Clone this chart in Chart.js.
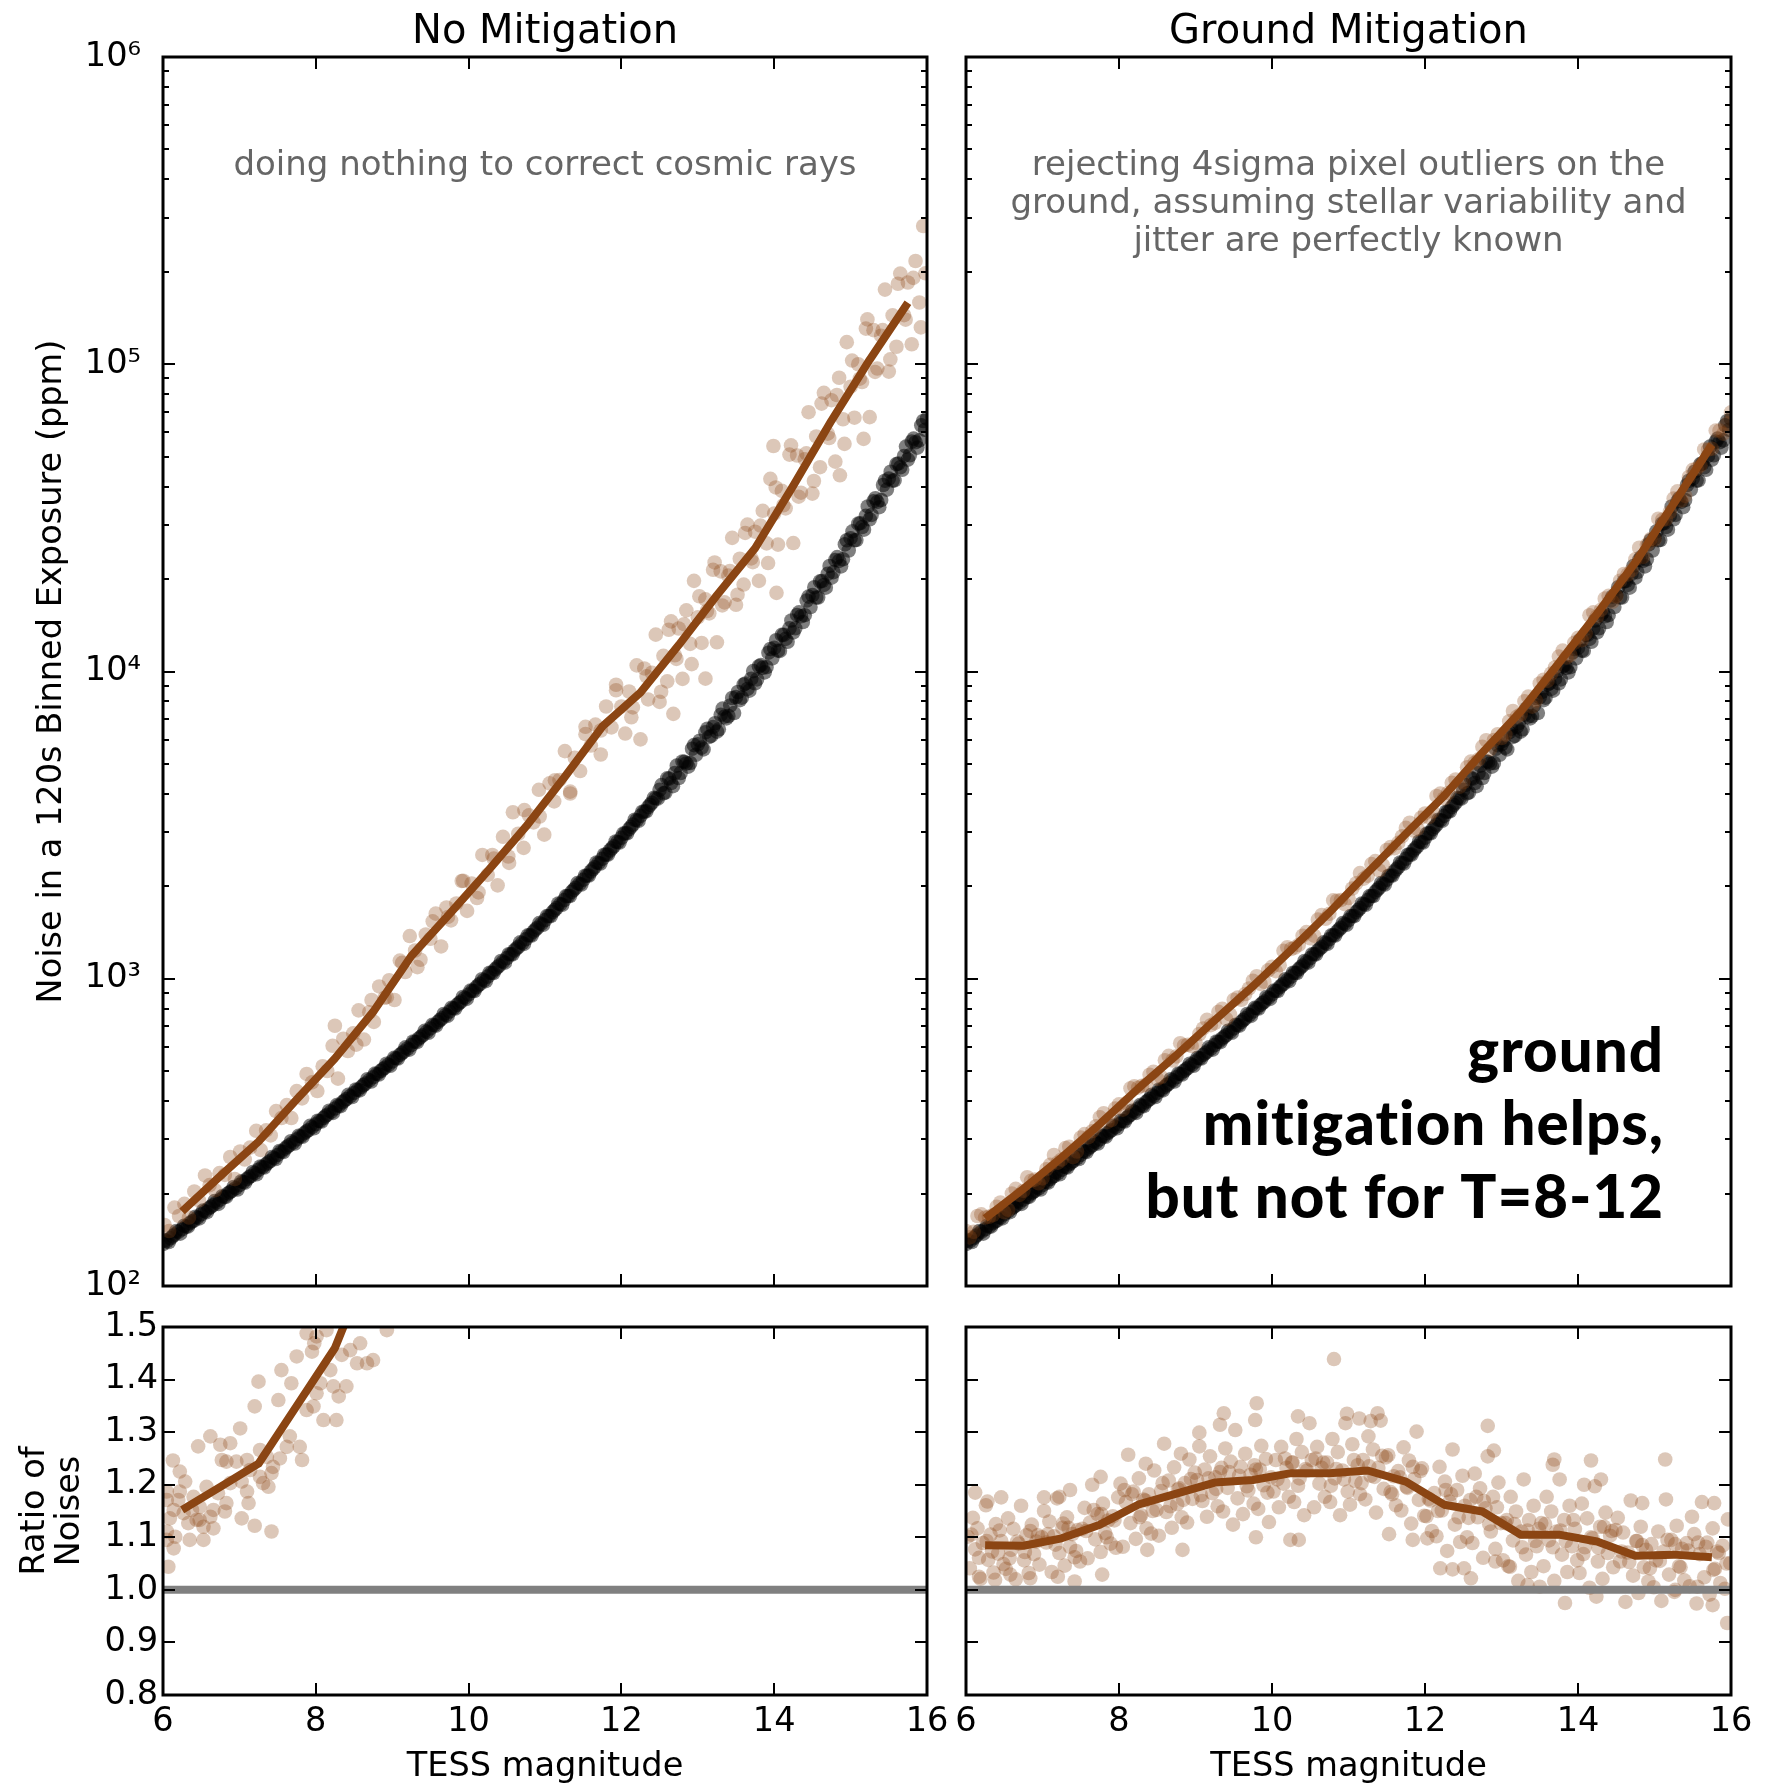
<!DOCTYPE html>
<html>
<head>
<meta charset="utf-8">
<title>Cosmic ray mitigation: noise vs TESS magnitude</title>
<script src="https://cdn.jsdelivr.net/npm/chart.js@4.4.1/dist/chart.umd.min.js"></script>
<style>
  html, body { margin: 0; padding: 0; background: #fff; }
  #figure { position: relative; width: 1766px; height: 1788px; }
  #figure canvas { position: absolute; left: 0; top: 0; }
</style>
</head>
<body>
<div id="figure">
  <canvas id="noMitigationNoise" width="1766" height="1788"></canvas>
  <canvas id="groundNoise" width="1766" height="1788"></canvas>
  <canvas id="noMitigationRatio" width="1766" height="1788"></canvas>
  <canvas id="groundRatio" width="1766" height="1788"></canvas>
</div>
<script>
// ---------- axis ticks ----------
const magTicks = [6, 8, 10, 12, 14, 16];
const noiseDecades = [100, 1000, 10000, 100000, 1000000];
const ratioTicks = [0.8, 0.9, 1.0, 1.1, 1.2, 1.3, 1.4, 1.5];
const unityRatio = 1.0;

// ---------- binned medians (0.5 mag bins) ----------
const binMag = [6.25, 6.75, 7.25, 7.75, 8.25, 8.75, 9.25, 9.75, 10.25, 10.75,
                11.25, 11.75, 12.25, 12.75, 13.25, 13.75, 14.25, 14.75, 15.25, 15.75];
const noMitigationMedian = [175, 228, 295, 405, 550, 780, 1186, 1625, 2240, 3126,
                            4510, 6620, 8550, 12190, 17700, 25180, 40270, 65600, 103500, 158500];
const groundMedian = [166, 207, 262, 337, 439, 564, 732, 945, 1242, 1644,
                      2212, 2964, 3937, 5444, 7411, 10650, 15410, 22640, 35140, 54710];
const noMitigationRatioMedian = [1.152, 1.196, 1.24, 1.35, 1.46, 1.64, 1.95, 2.08, 2.2, 2.32,
                                 2.5, 2.69, 2.52, 2.57, 2.64, 2.61, 2.85, 3.09, 3.14, 3.08];
const groundRatioMedian = [1.085, 1.084, 1.098, 1.124, 1.162, 1.183, 1.204, 1.209, 1.222, 1.222,
                           1.227, 1.206, 1.162, 1.149, 1.105, 1.105, 1.092, 1.065, 1.067, 1.062];

// ---------- per-star noise without cosmic rays [mag, ppm] ----------
const cleanStars = [
[6.00,137],[6.05,140],[6.10,143],[6.15,147],[6.20,150],[6.25,153],[6.30,156],[6.35,160],[6.40,163],[6.45,167],
[6.50,171],[6.55,175],[6.60,179],[6.65,183],[6.70,187],[6.75,191],[6.80,195],[6.85,200],[6.90,204],[6.95,208],
[7.00,213],[7.05,218],[7.10,223],[7.15,228],[7.20,233],[7.25,239],[7.30,244],[7.35,249],[7.40,255],[7.45,261],
[7.50,267],[7.55,274],[7.60,280],[7.65,287],[7.70,293],[7.75,300],[7.80,307],[7.85,314],[7.90,321],[7.95,329],
[8.00,336],[8.05,344],[8.10,352],[8.15,361],[8.20,369],[8.25,378],[8.30,386],[8.35,396],[8.40,406],[8.45,415],
[8.50,425],[8.55,435],[8.60,445],[8.65,456],[8.70,467],[8.75,478],[8.80,490],[8.85,501],[8.90,513],[8.95,525],
[9.00,538],[9.05,551],[9.10,565],[9.15,579],[9.20,593],[9.25,608],[9.30,624],[9.35,639],[9.40,655],[9.45,672],
[9.50,689],[9.55,706],[9.60,724],[9.65,743],[9.70,762],[9.75,782],[9.80,802],[9.85,822],[9.90,843],[9.95,866],
[10.00,889],[10.05,913],[10.10,938],[10.15,963],[10.20,989],[10.25,1016],[10.30,1045],[10.35,1074],[10.40,1104],[10.45,1135],
[10.50,1167],[10.55,1201],[10.60,1236],[10.65,1270],[10.70,1306],[10.75,1345],[10.80,1384],[10.85,1424],[10.90,1466],[10.95,1508],
[11.00,1552],[11.05,1599],[11.10,1648],[11.15,1698],[11.20,1750],[11.25,1803],[11.30,1858],[11.35,1917],[11.40,1977],[11.45,2037],
[11.50,2099],[11.55,2165],[11.60,2234],[11.65,2307],[11.70,2382],[11.75,2458],[11.80,2535],[11.85,2615],[11.90,2698],[11.95,2786],
[12.00,2877],[12.05,2972],[12.10,3069],[12.15,3173],[12.20,3281],[12.25,3388],[12.30,3499],[12.35,3618],[12.40,3741],[12.45,3868],
[12.50,4119],[12.55,4011],[12.60,4490],[12.65,4337],[12.70,4673],[12.75,4501],[12.80,5094],[12.85,5019],[12.90,5038],[12.95,5758],
[13.00,5792],[13.05,5653],[13.10,6341],[13.15,6126],[13.20,6600],[13.25,6372],[13.30,7228],[13.35,7130],[13.40,7165],[13.45,8199],
[13.50,8258],[13.55,8068],[13.60,9062],[13.65,8775],[13.70,9476],[13.75,9156],[13.80,10400],[13.85,10272],[13.90,10334],[13.95,11839],
[14.00,11936],[14.05,11689],[14.10,13158],[14.15,12771],[14.20,13823],[14.25,13405],[14.30,15277],[14.35,15122],[14.40,15250],[14.45,17530],
[14.50,17736],[14.55,17409],[14.60,19642],[14.65,19130],[14.70,20777],[14.75,20197],[14.80,23069],[14.85,22917],[14.90,23189],[14.95,26748],
[15.00,27154],[15.05,26743],[15.10,30282],[15.15,29527],[15.20,32107],[15.25,31284],[15.30,35812],[15.35,35656],[15.40,36163],[15.45,41764],
[15.50,42446],[15.55,41807],[15.60,47334],[15.65,46207],[15.70,50306],[15.75,48944],[15.80,55983],[15.85,55737],[15.90,56525],[15.95,65360],
[16.00,66507],
[6.025,141],[6.075,139],[6.125,145],[6.175,151],[6.225,148],[6.275,157],[6.325,156],[6.375,162],[6.425,168],[6.475,166],
[6.525,176],[6.575,174],[6.625,181],[6.675,189],[6.725,185],[6.775,196],[6.825,195],[6.875,202],[6.925,210],[6.975,206],
[7.025,219],[7.075,217],[7.125,226],[7.175,235],[7.225,231],[7.275,245],[7.325,243],[7.375,252],[7.425,263],[7.475,259],
[7.525,275],[7.575,273],[7.625,284],[7.675,296],[7.725,291],[7.775,308],[7.825,306],[7.875,318],[7.925,332],[7.975,326],
[8.025,345],[8.075,343],[8.125,357],[8.175,372],[8.225,366],[8.275,388],[8.325,385],[8.375,401],[8.425,419],[8.475,412],
[8.525,436],[8.575,433],[8.625,451],[8.675,471],[8.725,463],[8.775,491],[8.825,488],[8.875,507],[8.925,529],[8.975,521],
[9.025,553],[9.075,550],[9.125,572],[9.175,598],[9.225,588],[9.275,625],[9.325,622],[9.375,647],[9.425,677],[9.475,667],
[9.525,708],[9.575,704],[9.625,734],[9.675,768],[9.725,757],[9.775,804],[9.825,800],[9.875,833],[9.925,872],[9.975,860],
[10.025,915],[10.075,912],[10.125,951],[10.175,996],[10.225,982],[10.275,1046],[10.325,1044],[10.375,1089],[10.425,1142],[10.475,1128],
[10.525,1202],[10.575,1200],[10.625,1253],[10.675,1314],[10.725,1299],[10.775,1385],[10.825,1383],[10.875,1445],[10.925,1517],[10.975,1499],
[11.025,1599],[11.075,1599],[11.125,1673],[11.175,1758],[11.225,1741],[11.275,1858],[11.325,1859],[11.375,1947],[11.425,2047],[11.475,2027],
[11.525,2164],[11.575,2167],[11.625,2271],[11.675,2391],[11.725,2372],[11.775,2534],[11.825,2536],[11.875,2657],[11.925,2797],[11.975,2775],
[12.025,2968],[12.075,2975],[12.125,3121],[12.175,3292],[12.225,3268],[12.275,3495],[12.325,3505],[12.375,3680],[12.425,3881],[12.475,3855],
[12.525,4270],[12.575,4037],[12.625,4481],[12.675,4233],[12.725,4938],[12.775,4673],[12.825,5083],[12.875,4900],[12.925,5606],[12.975,5360],
[13.025,5953],[13.075,5577],[13.125,6513],[13.175,6169],[13.225,6786],[13.275,6486],[13.325,7570],[13.375,7039],[13.425,7750],[13.475,7324],
[13.525,8574],[13.575,8219],[13.625,9143],[13.675,8664],[13.725,10030],[13.775,9424],[13.825,10493],[13.875,9935],[13.925,11514],[13.975,11036],
[14.025,12644],[14.075,11675],[14.125,13162],[14.175,12494],[14.225,14659],[14.275,13821],[14.325,15578],[14.375,14487],[14.425,17019],[14.475,16201],
[14.525,18811],[14.575,17408],[14.625,19683],[14.675,18744],[14.725,22059],[14.775,21065],[14.825,23566],[14.875,21991],[14.925,25925],[14.975,24760],
[15.025,28578],[15.075,26788],[15.125,30362],[15.175,28948],[15.225,34449],[15.275,32328],[15.325,36626],[15.375,34257],[15.425,40451],[15.475,39088],
[15.525,44675],[15.575,41876],[15.625,47488],[15.675,45332],[15.725,53939],[15.775,50554],[15.825,57252],[15.875,53549],[15.925,63263],[15.975,61207]
];

// ---------- per-star noise, cosmic rays left in [mag, ppm] ----------
const noMitigationStars = [
[6.02,158],[6.08,151],[6.15,180],[6.21,169],[6.28,185],[6.34,167],[6.41,203],[6.47,190],[6.55,229],[6.61,213],
[6.68,205],[6.74,233],[6.81,230],[6.88,263],[6.94,223],[7.01,274],[7.07,258],[7.14,282],[7.22,320],[7.28,277],
[7.35,321],[7.41,309],[7.48,371],[7.55,352],[7.62,388],[7.68,352],[7.75,431],[7.82,408],[7.88,490],[7.95,460],
[8.02,431],[8.09,519],[8.15,501],[8.22,605],[8.29,473],[8.36,638],[8.42,582],[8.49,664],[8.56,789],[8.63,634],
[8.70,778],[8.76,724],[8.83,944],[8.90,867],[8.96,989],[9.03,853],[9.10,1146],[9.17,1052],[9.23,1377],[9.30,1236],
[9.37,1153],[9.44,1393],[9.50,1349],[9.57,1629],[9.64,1274],[9.71,1706],[9.77,1549],[9.84,1758],[9.91,2080],[9.98,1663],
[10.04,2042],[10.11,1832],[10.18,2529],[10.25,2178],[10.31,2529],[10.38,2014],[10.45,2897],[10.52,2500],[10.58,3483],[10.65,2965],
[10.72,2667],[10.79,3404],[10.85,3228],[10.92,4121],[10.99,2944],[11.06,4325],[11.12,3776],[11.19,4436],[11.26,5508],[11.33,4064],
[11.39,5236],[11.46,4742],[11.53,6607],[11.60,5741],[11.66,6714],[11.73,5370],[11.80,7691],[11.87,6577],[11.93,9057],[12.00,7691],
[12.05,6281],[12.10,8610],[12.15,7638],[12.20,10471],[12.25,6012],[12.30,10233],[12.35,8110],[12.40,9908],[12.45,13183],[12.50,7962],
[12.55,11246],[12.60,9290],[12.65,14555],[12.70,11298],[12.75,13804],[12.80,9462],[12.85,15812],[12.90,12303],[12.95,19724],[13.00,14997],
[13.05,12388],[13.10,17179],[13.15,15453],[13.20,21429],[13.25,12445],[13.30,21184],[13.35,16788],[13.40,20512],[13.45,27227],[13.50,16482],
[13.55,23281],[13.60,19187],[13.65,30061],[13.70,23335],[13.75,28510],[13.80,19724],[13.85,33343],[13.90,26122],[13.95,42364],[14.00,32659],
[14.05,25882],[14.10,38726],[14.15,33963],[14.20,50816],[14.25,26182],[14.30,50466],[14.35,38194],[14.40,49091],[14.45,69823],[14.50,37931],
[14.55,58210],[14.60,46238],[14.65,80724],[14.70,59429],[14.75,76384],[14.80,48195],[14.85,90365],[14.90,66222],[14.95,118032],[15.00,84528],
[15.05,66988],[15.10,100000],[15.15,87498],[15.20,130617],[15.25,67298],[15.30,129122],[15.35,96828],[15.40,123880],[15.45,174985],[15.50,94624],
[15.55,144212],[15.60,114025],[15.65,197242],[15.70,144544],[15.75,184502],[15.80,116145],[15.85,216770],[15.90,158855],[15.95,281838],[15.98,197697],
[8.25,703],[13.10,9480],[12.68,7280],[13.99,54200],[14.03,18030],[14.86,43500],[15.17,57150],
[8.53,610],[8.73,853],[8.93,871],[9.13,1127],[9.33,1091],[9.53,1538],[9.73,1589],[9.93,2084],[10.13,1910],[10.33,2460],
[10.53,2382],[10.73,3540],[10.93,3373],[11.13,4426],[11.33,4009],[11.53,6252],[11.73,6427],[11.93,8690],[12.13,7096],[12.33,9638],
[12.52,8590],[12.62,13677],[12.72,10990],[12.82,14256],[12.92,10568],[13.02,17579],[13.12,15740],[13.22,22646],[13.32,16406],[13.42,21232],
[13.52,17783],[13.62,28249],[13.72,22699],[13.82,29854],[13.92,22542],[14.02,39719],[14.12,34754],[14.22,54450],[14.32,37068],[14.42,51286],
[14.52,41687],[14.62,74473],[14.72,57544],[14.82,79433],[14.92,55081],[15.02,102802],[15.12,89743],[15.22,139959],[15.32,94406],[15.42,129122],
[15.52,103753],[15.62,182810],[15.72,139637],[15.82,190985],[15.92,131826]
];

// ---------- per-star noise after ground rejection [mag, ppm] ----------
const groundStars = [
[6.0,151],[6.1,150],[6.2,171],[6.3,168],[6.4,181],[6.5,174],[6.6,200],[6.7,198],[6.8,226],[6.9,222],
[7.0,224],[7.1,248],[7.2,252],[7.3,281],[7.4,263],[7.5,304],[7.6,305],[7.7,331],[7.8,365],[7.9,347],
[8.0,390],[8.1,394],[8.2,447],[8.3,448],[8.4,487],[8.5,472],[8.6,543],[8.7,542],[8.8,617],[8.9,610],
[9.0,619],[9.1,689],[9.2,706],[9.3,780],[9.4,740],[9.5,854],[9.6,854],[9.7,930],[9.8,1019],[9.9,978],
[10.0,1093],[10.1,1107],[10.2,1266],[10.3,1264],[10.4,1380],[10.5,1354],[10.6,1557],[10.7,1567],[10.8,1799],[10.9,1803],
[11.0,1831],[11.1,2044],[11.2,2118],[11.3,2360],[11.4,2254],[11.5,2624],[11.6,2658],[11.7,2906],[11.8,3219],[11.9,3076],
[12.0,3452],[12.1,3499],[12.2,4003],[12.3,4024],[12.4,4452],[12.5,4359],[12.6,5088],[12.7,5177],[12.8,5976],[12.9,5983],
[13.0,6073],[13.1,6884],[13.2,7118],[13.3,7993],[13.4,7688],[13.5,9139],[13.6,9320],[13.7,10312],[13.8,11700],[13.9,11303],
[14.0,12863],[14.1,13283],[14.2,15585],[14.3,15864],[14.4,17632],[14.5,17563],[14.6,20765],[14.7,21389],[14.8,25287],[14.9,25846],
[15.0,26890],[15.1,31147],[15.2,33051],[15.3,38567],[15.4,37293],[15.5,45331],[15.6,46883],[15.7,52772],[15.8,60828],[15.9,59469],
[16.0,69736],
[6.05,144],[6.15,169],[6.25,167],[6.35,170],[6.45,187],[6.55,177],[6.65,207],[6.75,204],[6.85,220],[6.95,216],
[7.05,240],[7.15,267],[7.25,258],[7.35,284],[7.45,274],[7.55,312],[7.65,319],[7.75,354],[7.85,342],[7.95,378],
[8.05,375],[8.15,440],[8.25,442],[8.35,451],[8.45,498],[8.55,479],[8.65,561],[8.75,559],[8.85,606],[8.95,604],
[9.05,661],[9.15,735],[9.25,717],[9.35,799],[9.45,766],[9.55,868],[9.65,892],[9.75,985],[9.85,962],[9.95,1065],
[10.05,1059],[10.15,1233],[10.25,1250],[10.35,1289],[10.45,1419],[10.55,1381],[10.65,1613],[10.75,1627],[10.85,1794],[10.95,1749],
[11.05,1967],[11.15,2207],[11.25,2164],[11.35,2415],[11.45,2343],[11.55,2685],[11.65,2768],[11.75,3097],[11.85,3033],[11.95,3343],
[12.05,3358],[12.15,3935],[12.25,3862],[12.35,4342],[12.45,4216],[12.55,4879],[12.65,5046],[12.75,5686],[12.85,5577],[12.95,6247],
[13.05,6236],[13.15,7439],[13.25,7244],[13.35,8282],[13.45,8044],[13.55,9399],[13.65,9849],[13.75,11180],[13.85,11102],[13.95,12398],
[14.05,12653],[14.15,15247],[14.25,15098],[14.35,17261],[14.45,16869],[14.55,19742],[14.65,20691],[14.75,23173],[14.85,23611],[14.95,27000],
[15.05,31430],[15.15,31335],[15.25,36552],[15.35,36016],[15.45,42946],[15.55,45686],[15.65,52808],[15.75,53066],[15.85,60804],[15.95,64126]
];

// ---------- per-star ratio to the clean noise [mag, ratio] ----------
const noMitigationRatioStars = [
[6.05,1.187],[6.13,1.246],[6.22,1.225],[6.29,1.206],[6.05,1.171],[6.20,1.171],[6.09,1.136],[6.27,1.146],[6.38,1.152],[6.44,1.133],
[6.33,1.127],[6.53,1.120],[6.66,1.117],[6.62,1.139],[6.48,1.158],[6.05,1.111],[6.16,1.101],[6.05,1.095],[6.14,1.079],[6.07,1.044],
[6.35,1.095],[6.53,1.095],[6.46,1.273],[6.62,1.292],[6.75,1.276],[6.88,1.279],[7.01,1.307],[7.25,1.396],[7.20,1.349],[7.42,1.111],
[7.20,1.122],[7.03,1.136],[6.81,1.149],[6.83,1.165],[6.66,1.152],[6.72,1.184],[6.77,1.247],[6.83,1.244],[6.96,1.244],[7.10,1.247],
[7.12,1.165],[7.10,1.187],[7.03,1.206],[7.27,1.215],[7.31,1.203],[7.38,1.196],[7.42,1.222],[7.44,1.234],[7.53,1.250],[7.62,1.272],
[7.66,1.292],[7.79,1.272],[7.82,1.247],[7.51,1.361],[7.55,1.418],[7.68,1.393],[7.75,1.444],[7.88,1.342],[7.97,1.349],[8.01,1.374],
[8.06,1.393],[8.10,1.323],[7.95,1.453],[7.98,1.469],[8.01,1.482],[7.88,1.488],[8.19,1.418],[8.23,1.387],[8.27,1.323],[8.30,1.368],
[8.40,1.387],[8.34,1.447],[8.45,1.456],[8.58,1.469],[8.54,1.431],[8.67,1.431],[8.75,1.437],[8.93,1.494],[8.14,1.494],[7.27,1.266],
[7.36,1.253],[7.14,1.228],[6.88,1.203],[6.40,1.177],[6.57,1.196],[6.48,1.133],[6.22,1.187],[6.14,1.152]
];

const groundRatioStars = [
[6.02,1.101],[6.05,1.041],[6.09,1.137],[6.12,1.077],[6.15,1.117],[6.19,1.021],[6.22,1.089],[6.26,1.161],[6.29,1.057],[6.32,1.105],[6.36,1.033],[6.39,1.125],[6.42,1.069],[6.46,1.093],[6.49,1.049],
[6.52,1.040],[6.55,1.136],[6.59,1.076],[6.62,1.116],[6.65,1.020],[6.69,1.088],[6.72,1.160],[6.76,1.056],[6.79,1.104],[6.82,1.032],[6.86,1.124],[6.89,1.068],[6.92,1.092],[6.96,1.048],[6.99,1.100],
[7.02,1.150],[7.05,1.090],[7.09,1.130],[7.12,1.034],[7.15,1.102],[7.19,1.174],[7.22,1.070],[7.26,1.118],[7.29,1.046],[7.32,1.138],[7.36,1.082],[7.39,1.106],[7.42,1.062],[7.46,1.114],[7.49,1.054],
[7.52,1.116],[7.55,1.156],[7.59,1.060],[7.62,1.128],[7.65,1.200],[7.69,1.096],[7.72,1.144],[7.76,1.072],[7.79,1.164],[7.82,1.108],[7.86,1.132],[7.89,1.088],[7.92,1.140],[7.96,1.080],[7.99,1.176],
[8.02,1.202],[8.05,1.082],[8.09,1.167],[8.12,1.257],[8.15,1.127],[8.19,1.187],[8.22,1.097],[8.26,1.212],[8.29,1.142],[8.32,1.172],[8.36,1.117],[8.39,1.182],[8.42,1.107],[8.46,1.227],[8.49,1.152],
[8.52,1.103],[8.55,1.188],[8.59,1.278],[8.62,1.148],[8.65,1.208],[8.69,1.118],[8.72,1.233],[8.76,1.163],[8.79,1.193],[8.82,1.138],[8.86,1.203],[8.89,1.128],[8.92,1.248],[8.96,1.173],[8.99,1.223],
[9.02,1.209],[9.05,1.299],[9.09,1.169],[9.12,1.229],[9.15,1.139],[9.19,1.254],[9.22,1.184],[9.26,1.214],[9.29,1.159],[9.32,1.224],[9.36,1.149],[9.39,1.269],[9.42,1.194],[9.46,1.244],[9.49,1.124],
[9.52,1.304],[9.55,1.174],[9.59,1.234],[9.62,1.144],[9.65,1.259],[9.69,1.189],[9.72,1.219],[9.76,1.164],[9.79,1.229],[9.82,1.154],[9.86,1.274],[9.89,1.199],[9.92,1.249],[9.96,1.129],[9.99,1.214],
[10.02,1.187],[10.05,1.247],[10.09,1.157],[10.12,1.272],[10.15,1.202],[10.19,1.232],[10.22,1.177],[10.26,1.242],[10.29,1.167],[10.32,1.287],[10.36,1.212],[10.39,1.262],[10.42,1.142],[10.46,1.227],[10.49,1.317],
[10.52,1.247],[10.55,1.157],[10.59,1.272],[10.62,1.202],[10.65,1.232],[10.69,1.177],[10.72,1.242],[10.76,1.167],[10.79,1.287],[10.82,1.212],[10.86,1.262],[10.89,1.142],[10.92,1.227],[10.96,1.317],[10.99,1.187],
[11.02,1.162],[11.05,1.277],[11.09,1.207],[11.12,1.237],[11.15,1.182],[11.19,1.247],[11.22,1.172],[11.26,1.292],[11.29,1.217],[11.32,1.267],[11.36,1.147],[11.39,1.232],[11.42,1.322],[11.46,1.192],[11.49,1.252],
[11.52,1.256],[11.55,1.186],[11.59,1.216],[11.62,1.161],[11.65,1.226],[11.69,1.151],[11.72,1.271],[11.76,1.196],[11.79,1.246],[11.82,1.126],[11.86,1.211],[11.89,1.301],[11.92,1.171],[11.96,1.231],[11.99,1.141],
[12.02,1.140],[12.05,1.173],[12.09,1.112],[12.12,1.184],[12.15,1.102],[12.19,1.234],[12.22,1.151],[12.26,1.206],[12.29,1.074],[12.32,1.168],[12.36,1.267],[12.39,1.124],[12.42,1.190],[12.46,1.091],[12.49,1.217],
[12.52,1.160],[12.55,1.100],[12.59,1.171],[12.62,1.089],[12.65,1.221],[12.69,1.138],[12.72,1.193],[12.76,1.061],[12.79,1.155],[12.82,1.254],[12.86,1.111],[12.89,1.177],[12.92,1.078],[12.96,1.204],[12.99,1.127],
[13.02,1.056],[13.05,1.127],[13.09,1.045],[13.12,1.177],[13.15,1.094],[13.19,1.149],[13.22,1.017],[13.26,1.111],[13.29,1.210],[13.32,1.067],[13.36,1.133],[13.39,1.034],[13.42,1.160],[13.46,1.083],[13.49,1.116],
[13.52,1.127],[13.55,1.045],[13.59,1.177],[13.62,1.094],[13.65,1.149],[13.69,1.017],[13.72,1.111],[13.76,1.210],[13.79,1.067],[13.82,1.133],[13.86,1.034],[13.89,1.160],[13.92,1.083],[13.96,1.116],[13.99,1.056],
[14.02,1.032],[14.05,1.164],[14.09,1.081],[14.12,1.136],[14.15,1.004],[14.19,1.098],[14.22,1.197],[14.26,1.054],[14.29,1.120],[14.32,1.021],[14.36,1.147],[14.39,1.070],[14.42,1.103],[14.46,1.043],[14.49,1.114],
[14.52,1.137],[14.55,1.054],[14.59,1.109],[14.62,0.977],[14.65,1.071],[14.69,1.170],[14.72,1.027],[14.76,1.093],[14.79,0.994],[14.82,1.120],[14.86,1.043],[14.89,1.076],[14.92,1.016],[14.96,1.087],[14.99,1.005],
[15.02,1.056],[15.05,1.111],[15.09,0.979],[15.12,1.073],[15.15,1.172],[15.19,1.029],[15.22,1.095],[15.26,0.996],[15.29,1.122],[15.32,1.045],[15.36,1.078],[15.39,1.018],[15.42,1.089],[15.46,1.007],[15.49,1.139],
[15.52,1.106],[15.55,0.974],[15.59,1.068],[15.62,1.167],[15.65,1.024],[15.69,1.090],[15.72,0.991],[15.76,1.117],[15.79,1.040],[15.82,1.073],[15.86,1.013],[15.89,1.084],[15.92,1.002],[15.96,1.134],[15.99,1.051],
[10.81,1.439],[9.80,1.355],[9.37,1.336],[9.32,1.314],[9.78,1.323],[10.34,1.330],[10.98,1.335],[11.14,1.326],[11.29,1.321],[11.38,1.336],
[12.82,1.312],[12.90,1.265],[15.14,1.248],[13.69,1.248],[13.67,1.238],[14.17,1.246],[14.30,1.210],[14.08,1.200],[14.84,1.165],[15.78,1.165],
[6.46,1.176],[6.12,1.185],[6.28,1.168],[7.02,1.176],[7.22,1.177],[7.36,1.190],[7.76,1.215],[8.35,1.240],[8.81,1.259],[9.05,1.273],
[6.17,1.025],[6.38,1.019],[6.84,1.022],[7.42,1.016],[7.78,1.029],[7.20,1.025],[6.58,1.029],[8.37,1.076],[8.83,1.076],[9.79,1.100],
[10.24,1.095],[10.35,1.095],[11.53,1.106],[11.84,1.095],[12.03,1.098],[12.20,1.041],[12.36,1.039],[12.51,1.041],[12.60,1.022],[13.34,1.009],
[13.50,1.006],[13.83,0.975],[14.24,0.987],[15.76,0.971],[15.95,0.937],[15.27,1.000],[15.56,1.006],[13.11,1.044],[12.92,1.054],
[6.07,1.105],[6.17,1.061],[6.27,1.093],[6.34,1.073],[6.44,1.113],[6.57,1.060],[6.67,1.092],[6.77,1.072],[6.84,1.112],[6.94,1.104],
[7.07,1.106],[7.17,1.086],[7.27,1.126],[7.34,1.118],[7.44,1.074],[7.57,1.112],[7.67,1.152],[7.77,1.144],[7.84,1.100],[7.94,1.132],
[8.07,1.190],[8.17,1.182],[8.27,1.138],[8.34,1.170],[8.44,1.150],[8.57,1.203],[8.67,1.159],[8.77,1.191],[8.84,1.171],[8.94,1.211],
[9.07,1.180],[9.17,1.212],[9.27,1.192],[9.34,1.232],[9.44,1.224],[9.57,1.217],[9.67,1.197],[9.77,1.237],[9.84,1.229],[9.94,1.185],
[10.07,1.210],[10.17,1.250],[10.27,1.242],[10.34,1.198],[10.44,1.230],[10.57,1.250],[10.67,1.242],[10.77,1.198],[10.84,1.230],[10.94,1.210],
[11.07,1.247],[11.17,1.203],[11.27,1.235],[11.34,1.215],[11.44,1.255],[11.57,1.182],[11.67,1.214],[11.77,1.194],[11.84,1.234],[11.94,1.226],
[12.07,1.170],[12.17,1.150],[12.27,1.190],[12.34,1.182],[12.44,1.138],[12.57,1.137],[12.67,1.177],[12.77,1.169],[12.84,1.125],[12.94,1.157],
[13.07,1.133],[13.17,1.125],[13.27,1.081],[13.34,1.113],[13.44,1.093],[13.57,1.125],[13.67,1.081],[13.77,1.113],[13.84,1.093],[13.94,1.133],
[14.07,1.068],[14.17,1.100],[14.27,1.080],[14.34,1.120],[14.44,1.112],[14.57,1.073],[14.67,1.053],[14.77,1.093],[14.84,1.085],[14.94,1.041],
[15.07,1.055],[15.17,1.095],[15.27,1.087],[15.34,1.043],[15.44,1.075],[15.57,1.090],[15.67,1.082],[15.77,1.038],[15.84,1.070],[15.94,1.050]
];

// ---------- panel text ----------
const noteNoMitigation = ['doing nothing to correct cosmic rays'];
const noteGround = ['rejecting 4sigma pixel outliers on the',
                    'ground, assuming stellar variability and',
                    'jitter are perfectly known'];
const noteVerdict = ['ground', 'mitigation helps,', 'but not for T=8-12'];

// ---------- styling ----------
const FONT = 'DejaVu Sans';
const LABEL_SIZE = 33.6;
const BROWN = '#8B4513';
const BROWN_DOT = 'rgba(139,69,19,0.3)';
const BLACK_DOT = 'rgba(0,0,0,0.5)';
const DOT_R = 7.3;
const SUP = {2: '\u00B2', 3: '\u00B3', 4: '\u2074', 5: '\u2075', 6: '\u2076'};

Chart.defaults.font.family = FONT;
Chart.defaults.color = '#000';

const toPoints = arr => arr.map(([x, y]) => ({x, y}));
const toLine = (xs, ys) => xs.map((x, i) => ({x, y: ys[i]}));
const minorNoise = [];
noiseDecades.slice(0, -1).forEach(d => { for (let k = 2; k <= 9; k++) minorNoise.push(d * k); });

// Frame with inward ticks on all four sides (major and minor)
function framePlugin(yMajor, yMinor) {
  return {
    id: 'frame',
    afterDraw(chart) {
      const {ctx, chartArea: a} = chart;
      const xs = chart.scales.x, ys = chart.scales.y;
      ctx.save();
      ctx.strokeStyle = '#000';
      ctx.lineWidth = 2;
      ctx.beginPath();
      const vTick = (v, len) => {
        const p = Math.round(xs.getPixelForValue(v));
        ctx.moveTo(p, a.bottom); ctx.lineTo(p, a.bottom - len);
        ctx.moveTo(p, a.top); ctx.lineTo(p, a.top + len);
      };
      const hTick = (v, len) => {
        const p = Math.round(ys.getPixelForValue(v));
        ctx.moveTo(a.left, p); ctx.lineTo(a.left + len, p);
        ctx.moveTo(a.right, p); ctx.lineTo(a.right - len, p);
      };
      magTicks.forEach(v => vTick(v, 12));
      yMajor.forEach(v => hTick(v, 12));
      yMinor.forEach(v => hTick(v, 6));
      ctx.stroke();
      ctx.lineWidth = 3;
      ctx.strokeRect(a.left, a.top, a.right - a.left, a.bottom - a.top);
      ctx.restore();
    }
  };
}

// Free text placed inside the plotting area
function notesPlugin(notes) {
  return {
    id: 'notes',
    afterDraw(chart) {
      const {ctx, chartArea: a} = chart;
      notes.forEach(n => {
        ctx.save();
        ctx.font = n.font;
        ctx.fillStyle = n.color;
        ctx.textAlign = n.align;
        ctx.textBaseline = 'alphabetic';
        if (n.spacing) ctx.letterSpacing = n.spacing;
        const x = n.align === 'center' ? (a.left + a.right) / 2 : a.right - n.inset;
        n.lines.forEach((t, i) => ctx.fillText(t, x, a.top + n.top + i * n.gap));
        ctx.restore();
      });
    }
  };
}

function magAxis(showLabels) {
  return {
    type: 'linear', min: 6, max: 16, position: 'bottom',
    afterBuildTicks: s => { s.ticks = magTicks.map(v => ({value: v})); },
    ticks: {display: showLabels, font: {size: LABEL_SIZE}, padding: 7, maxRotation: 0, autoSkip: false, color: '#000'},
    grid: {display: false, drawTicks: false},
    border: {display: false},
    title: {display: showLabels, text: 'TESS magnitude', font: {size: LABEL_SIZE}, color: '#000', padding: {top: 0, bottom: 1}},
    afterFit: s => { s.height = showLabels ? 93 : 0; }
  };
}

function noiseAxis(showLabels) {
  return {
    type: 'logarithmic', min: 100, max: 1000000, position: 'left',
    afterBuildTicks: s => { s.ticks = noiseDecades.map(v => ({value: v})); },
    ticks: {
      display: showLabels, autoSkip: false, font: {size: LABEL_SIZE}, padding: 22, color: '#000',
      callback: v => '10' + SUP[Math.round(Math.log10(v))]
    },
    grid: {display: false, drawTicks: false},
    border: {display: false},
    title: {display: showLabels, text: 'Noise in a 120s Binned Exposure (ppm)', font: {size: LABEL_SIZE}, color: '#000', padding: {top: 32, bottom: 0}},
    afterFit: s => { s.width = showLabels ? 163 : 966; }
  };
}

function ratioAxis(showLabels) {
  return {
    type: 'linear', min: 0.8, max: 1.5, position: 'left',
    afterBuildTicks: s => { s.ticks = ratioTicks.map(v => ({value: v})); },
    ticks: {display: showLabels, autoSkip: false, font: {size: LABEL_SIZE}, padding: 5, color: '#000', callback: v => v.toFixed(1)},
    grid: {display: false, drawTicks: false},
    border: {display: false},
    title: {display: showLabels, text: ['Ratio of', 'Noises'], font: {size: LABEL_SIZE, lineHeight: 1.04}, color: '#000', padding: {top: 18, bottom: 0}},
    afterFit: s => { s.width = showLabels ? 163 : 966; }
  };
}

function baseOptions(padding, title) {
  return {
    responsive: false, animation: false, devicePixelRatio: 1, events: [],
    layout: {padding},
    plugins: {
      legend: {display: false},
      tooltip: {enabled: false},
      title: title ? {
        display: true, text: title, fullSize: false, color: '#000',
        font: {size: 40, weight: 'normal', family: FONT, lineHeight: 1.1},
        padding: {top: 11, bottom: 2}
      } : {display: false}
    }
  };
}

const medianLine = (xs, ys) => ({
  data: toLine(xs, ys), showLine: true, pointRadius: 0, borderColor: BROWN, borderWidth: 8,
  borderCapStyle: 'butt', borderJoinStyle: 'round', clip: 0, order: 0
});
const dots = (arr, color, order) => ({
  data: toPoints(arr), pointRadius: DOT_R, pointBackgroundColor: color, backgroundColor: color,
  pointBorderWidth: 0, borderWidth: 0, clip: 0, order
});
const unityLine = () => ({
  data: [{x: 6, y: unityRatio}, {x: 16, y: unityRatio}], showLine: true, pointRadius: 0,
  borderColor: '#808080', borderWidth: 8, borderCapStyle: 'butt', clip: 0, order: 1
});

// Top left: no mitigation
const o1 = baseOptions({left: 0, top: 0, right: 839, bottom: 502}, 'No Mitigation');
o1.scales = {x: magAxis(false), y: noiseAxis(true)};
new Chart(document.getElementById('noMitigationNoise'), {
  type: 'scatter',
  data: {datasets: [
    medianLine(binMag, noMitigationMedian),
    dots(noMitigationStars, BROWN_DOT, 2),
    dots(cleanStars, BLACK_DOT, 3)
  ]},
  options: o1,
  plugins: [framePlugin(noiseDecades, minorNoise), notesPlugin([
    {lines: noteNoMitigation, font: '34px "DejaVu Sans"', color: '#666', align: 'center', top: 118, gap: 38}
  ])]
});

// Top right: ground mitigation
const o2 = baseOptions({left: 0, top: 0, right: 35, bottom: 502}, 'Ground Mitigation');
o2.scales = {x: magAxis(false), y: noiseAxis(false)};
new Chart(document.getElementById('groundNoise'), {
  type: 'scatter',
  data: {datasets: [
    medianLine(binMag, groundMedian),
    dots(groundStars, BROWN_DOT, 2),
    dots(cleanStars, BLACK_DOT, 3)
  ]},
  options: o2,
  plugins: [framePlugin(noiseDecades, minorNoise), notesPlugin([
    {lines: noteGround, font: '34px "DejaVu Sans"', color: '#666', align: 'center', top: 118, gap: 38},
    {lines: noteVerdict, font: '900 60px Lato', color: '#000', align: 'right', inset: 67, top: 1015, gap: 73, spacing: '1px'}
  ])]
});

// Bottom left: ratio, no mitigation
const o3 = baseOptions({left: 0, top: 1327, right: 839, bottom: 0}, null);
o3.scales = {x: magAxis(true), y: ratioAxis(true)};
new Chart(document.getElementById('noMitigationRatio'), {
  type: 'scatter',
  data: {datasets: [
    medianLine(binMag, noMitigationRatioMedian),
    unityLine(),
    dots(noMitigationRatioStars, BROWN_DOT, 2)
  ]},
  options: o3,
  plugins: [framePlugin(ratioTicks, [])]
});

// Bottom right: ratio, ground mitigation
const o4 = baseOptions({left: 0, top: 1327, right: 35, bottom: 0}, null);
o4.scales = {x: magAxis(true), y: ratioAxis(false)};
new Chart(document.getElementById('groundRatio'), {
  type: 'scatter',
  data: {datasets: [
    medianLine(binMag, groundRatioMedian),
    unityLine(),
    dots(groundRatioStars, BROWN_DOT, 2)
  ]},
  options: o4,
  plugins: [framePlugin(ratioTicks, [])]
});
</script>
</body>
</html>
